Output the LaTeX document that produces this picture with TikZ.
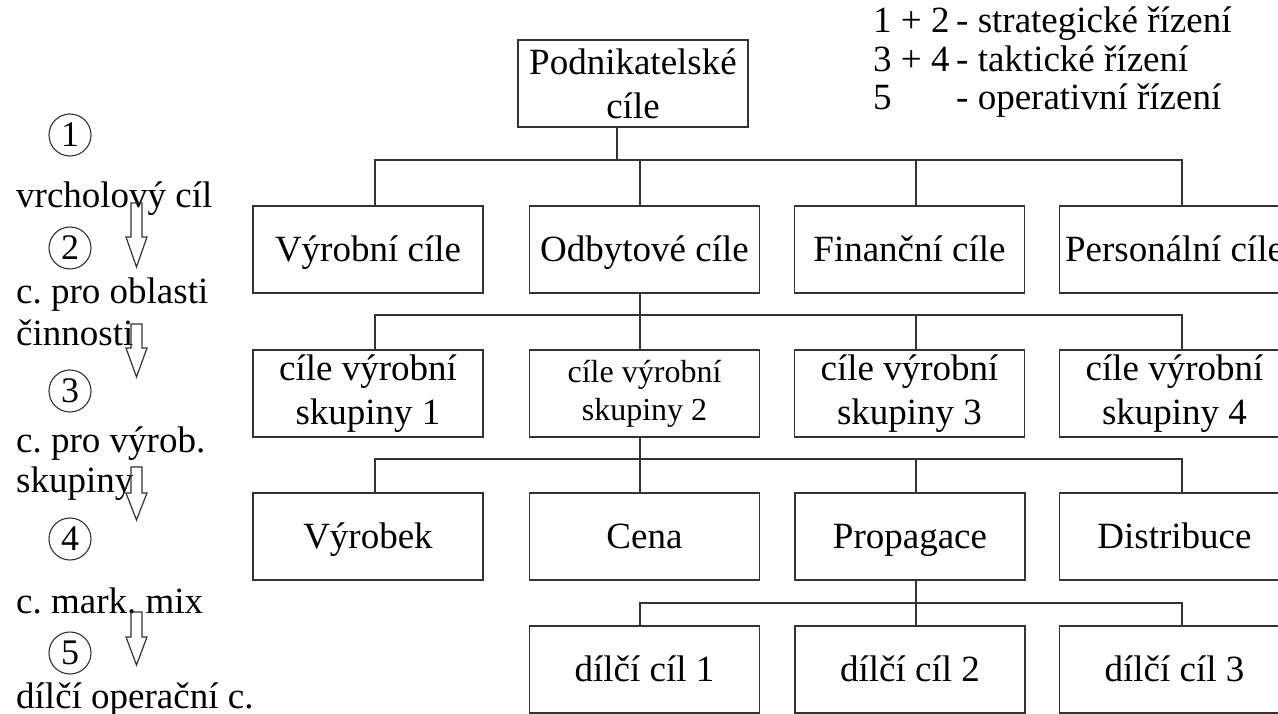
\documentclass[tikz,border=0pt]{standalone}
\usepackage{fontspec}
\setmainfont{Liberation Serif}
\frenchspacing
\begin{document}
\begin{tikzpicture}[x=1pt,y=-1pt,
  line/.style={draw=black!80, line width=1.3pt},
  mbox/.style={draw=black!80, line width=1.3pt, minimum width=230pt, minimum height=87pt,
    inner sep=0pt, align=center, font=\fontsize{37}{44}\selectfont},
  box/.style={mbox, text height=30pt, text depth=6pt},
  smallbox/.style={mbox, font=\fontsize{32}{38}\selectfont},
  txt/.style={inner sep=0pt, anchor=base west, font=\fontsize{37}{44}\selectfont},
  num/.style={draw=black!80, line width=1.1pt, circle, minimum size=42pt, inner sep=0pt,
    font=\fontsize{36}{40}\selectfont},
  barrow/.style={draw=black!80, line width=1.2pt, line join=miter}]
\fill[white] (0,0) rectangle (1278,714);
\useasboundingbox (0,0) rectangle (1278,714);
\clip (0,0) rectangle (1278,714);

% legend
\node[txt] (l1n) at (873,33) {1 + 2};
\node[txt] (l1t) at (956,33) {- strategické řízení};
\node[txt] (l2n) at (873,72) {3 + 4};
\node[txt] (l2t) at (956,72) {- taktické řízení};
\node[txt] (l3n) at (873,110) {5};
\node[txt] (l3t) at (956,110) {- operativní řízení};

% left column
\node[num] (c1) at (70,135) {1};
\node[num] (c2) at (70,248) {2};
\node[num] (c3) at (70,391) {3};
\node[num] (c4) at (70,539) {4};
\node[num] (c5) at (70,653) {5};
\node[txt] (t1) at (16,208) {vrcholový cíl};
\node[txt] (t2) at (16,304) {c. pro oblasti};
\node[txt] (t3) at (16,345) {činnosti};
\node[txt] (t4) at (16,452) {c. pro výrob.};
\node[txt] (t5) at (16,492) {skupiny};
\node[txt] (t6) at (16,613) {c. mark. mix};
\node[txt] (t7) at (16,708) {dílčí operační c.};
\foreach \t/\h/\b in {203/237/267, 324/348/377, 467/493/520, 612/637/665}
  \draw[barrow] (131,\t) -- (131,\h) -- (126,\h) -- (136.5,\b) -- (147,\h) -- (142,\h) -- (142,\t) -- cycle;

% tree
\node[mbox] (top) at (633,83.5) {Podnikatelské\\cíle};

\node[box] (r1a) at (368,249.5) {Výrobní cíle};
\node[box] (r1b) at (644.5,249.5) {Odbytové cíle};
\node[box] (r1c) at (909.5,249.5) {Finanční cíle};
\node[box] (r1d) at (1174.5,249.5) {Personální cíle};

\node[mbox] (r2a) at (368,393.5) {cíle výrobní\\skupiny 1};
\node[smallbox] (r2b) at (644.5,393.5) {cíle výrobní\\skupiny 2};
\node[mbox] (r2c) at (909.5,393.5) {cíle výrobní\\skupiny 3};
\node[mbox] (r2d) at (1174.5,393.5) {cíle výrobní\\skupiny 4};

\node[box] (r3a) at (368,536.5) {Výrobek};
\node[box] (r3b) at (644.5,536.5) {Cena};
\node[box] (r3c) at (910,536.5) {Propagace};
\node[box] (r3d) at (1174.5,536.5) {Distribuce};

\node[box] (r4a) at (644.5,669.5) {dílčí cíl 1};
\node[box] (r4b) at (910,669.5) {dílčí cíl 2};
\node[box] (r4c) at (1174.5,669.5) {dílčí cíl 3};

% connectors level 0 -> 1
\coordinate (j0) at (617,160);
\draw[line] ([xshift=-16pt]top.south) -- (j0);
\draw[line] ([xshift=7pt]r1a.north) |- ([xshift=7.5pt]r1d.north |- j0) -- ([xshift=7.5pt]r1d.north);
\draw[line] ([xshift=-4.5pt]r1b.north) -- ([xshift=-4.5pt]r1b.north |- j0);
\draw[line] ([xshift=6.5pt]r1c.north) -- ([xshift=6.5pt]r1c.north |- j0);

% level 1 -> 2
\coordinate (j1) at (640,315);
\draw[line] ([xshift=-4.5pt]r1b.south) -- (j1);
\draw[line] ([xshift=7pt]r2a.north) |- ([xshift=7.5pt]r2d.north |- j1) -- ([xshift=7.5pt]r2d.north);
\draw[line] ([xshift=-4.5pt]r2b.north) -- ([xshift=-4.5pt]r2b.north |- j1);
\draw[line] ([xshift=6.5pt]r2c.north) -- ([xshift=6.5pt]r2c.north |- j1);

% level 2 -> 3
\coordinate (j2) at (640,459);
\draw[line] ([xshift=-4.5pt]r2b.south) -- (j2);
\draw[line] ([xshift=7pt]r3a.north) |- ([xshift=7.5pt]r3d.north |- j2) -- ([xshift=7.5pt]r3d.north);
\draw[line] ([xshift=-4.5pt]r3b.north) -- ([xshift=-4.5pt]r3b.north |- j2);
\draw[line] ([xshift=6pt]r3c.north) -- ([xshift=6pt]r3c.north |- j2);

% level 3 -> 4
\coordinate (j3) at (916,603);
\draw[line] ([xshift=6pt]r3c.south) -- (j3);
\draw[line] ([xshift=-4.5pt]r4a.north) |- ([xshift=7.5pt]r4c.north |- j3) -- ([xshift=7.5pt]r4c.north);
\draw[line] ([xshift=6pt]r4b.north) -- ([xshift=6pt]r4b.north |- j3);
\end{tikzpicture}
\end{document}
